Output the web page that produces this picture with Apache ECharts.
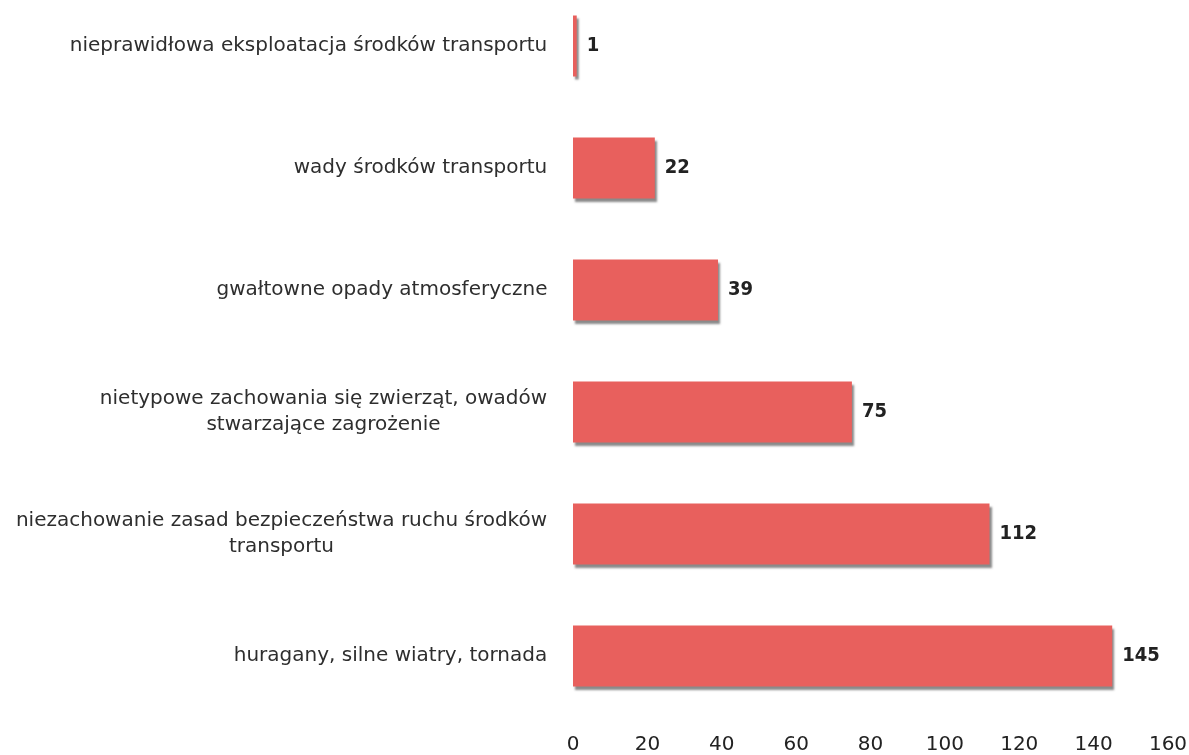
<!DOCTYPE html>
<html>
<head>
    <meta charset="UTF-8">
    <title>Przyczyny zdarzeń</title>
    <script src="https://cdn.jsdelivr.net/npm/echarts@6/dist/echarts.min.js"></script>
    <style>
        html, body { margin: 0; padding: 0; background: #fff; overflow: hidden; }
    </style>
</head>
<body>
<div id="chart" style="width: 1189px; height:755px;"></div>
<script>
    // od dołu do góry (oś kategorii w ECharts rośnie w górę)
    var categories = [
        "huragany, silne wiatry, tornada",
        "niezachowanie zasad bezpieczeństwa ruchu środków\ntransportu",
        "nietypowe zachowania się zwierząt, owadów\nstwarzające zagrożenie",
        "gwałtowne opady atmosferyczne",
        "wady środków transportu",
        "nieprawidłowa eksploatacja środków transportu"
    ];
    var values = [145, 112, 75, 39, 22, 1];
    var xTicks = [0, 20, 40, 60, 80, 100, 120, 140, 160];

    var fontSize = 20;
    var ctx = document.createElement("canvas").getContext("2d");
    ctx.font = fontSize + "px 'DejaVu Sans'";

    // linie w etykietach wyśrodkowane względem najdłuższej
    var rich = {};
    categories.forEach(function (c, i) {
        var w = 0;
        c.split("\n").forEach(function (l) { w = Math.max(w, ctx.measureText(l).width); });
        rich["c" + i] = {
            width: Math.ceil(w) + 1,
            align: 'center',
            fontSize: fontSize,
            fontFamily: 'DejaVu Sans',
            color: '#2e2e2e',
            lineHeight: 26
        };
    });

    function catLabel(value) {
        var i = categories.indexOf(value);
        return value.split("\n").map(function (l) { return "{c" + i + "|" + l + "}"; }).join("\n");
    }

    var chart = echarts.init(document.getElementById('chart'), null, {renderer: 'canvas'});
    chart.setOption({
        animation: false,
        grid: {left: 573, right: 21, top: -15, height: 732, outerBoundsMode: 'none'},
        xAxis: {
            type: 'value',
            min: 0,
            max: 160,
            interval: 20,
            axisLine: {show: false},
            axisTick: {show: false},
            splitLine: {show: false},
            axisLabel: {
                margin: 18,
                color: '#222',
                fontSize: 20,
                fontFamily: 'DejaVu Sans',
                formatter: function (v) { return xTicks.indexOf(v) >= 0 ? String(v) : ''; }
            }
        },
        yAxis: {
            type: 'category',
            data: categories,
            axisLine: {show: false},
            axisTick: {show: false},
            axisLabel: {
                margin: 25,
                color: '#2e2e2e',
                fontSize: fontSize,
                fontFamily: 'DejaVu Sans',
                lineHeight: 26,
                formatter: catLabel,
                rich: rich
            }
        },
        series: [{
            type: 'bar',
            data: values,
            barWidth: '50%',
            itemStyle: {
                color: '#e8605d',
                shadowColor: 'rgba(60,60,60,0.6)',
                shadowBlur: 2,
                shadowOffsetX: 2,
                shadowOffsetY: 3
            },
            label: {
                show: true,
                position: 'right',
                distance: 10,
                color: '#222',
                fontSize: 20,
                fontWeight: 'bold',
                fontFamily: 'DejaVu Sans Condensed, DejaVu Sans'
            }
        }]
    });
</script>
</body>
</html>
